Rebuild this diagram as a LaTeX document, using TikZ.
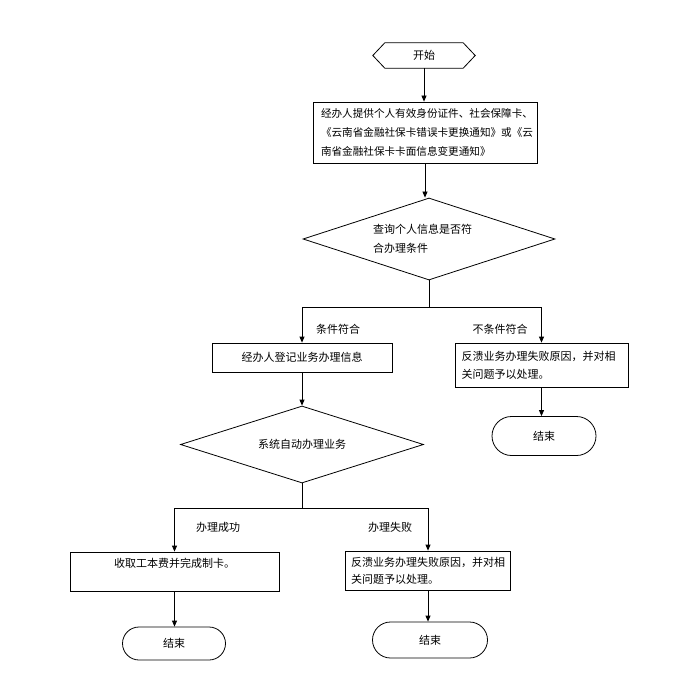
\documentclass[tikz,border=0pt]{standalone}
\usepackage{fontspec}
\setmainfont{Noto Sans CJK SC}
\usetikzlibrary{arrows.meta,shapes.geometric,shapes.misc}
\begin{document}
\begin{tikzpicture}[x=1pt,y=-1pt,
  every node/.style={font=\fontsize{11}{19}\selectfont},
  box/.style={draw,line width=0.8pt,rectangle,inner sep=0pt},
  dec/.style={draw,line width=0.8pt,diamond,aspect=3,inner sep=0pt},
  term/.style={draw,line width=0.8pt,rounded rectangle,inner sep=0pt},
  conn/.style={line width=0.8pt,-{Triangle[length=6pt,width=5pt]}},
  plain/.style={line width=0.8pt},
  lbl/.style={inner sep=0pt}]
\useasboundingbox (0,0) rectangle (700,700);
% start
\node[minimum width=102pt,minimum height=25pt,inner sep=0pt] (s) at (424,55.5) {开始};
\draw[line width=0.8pt] ([xshift=12pt]s.north west) -- ([xshift=-12pt]s.north east) -- (s.east)
  -- ([xshift=-12pt]s.south east) -- ([xshift=12pt]s.south west) -- (s.west) -- cycle;
% box 1
\node[box,minimum width=224pt,minimum height=61pt,text width=208pt,align=left,
  font=\fontsize{10.6}{19}\selectfont] (b1) at (425,132.5)
  {经办人提供个人有效身份证件、社会保障卡、\\《云南省金融社保卡错误卡更换通知》或《云\\南省金融社保卡卡面信息变更通知》};
% decision 1
\node[dec,minimum width=252pt,minimum height=82pt,text width=112pt,align=left] (d1) at (429,239)
  {查询个人信息是否符\\合办理条件};
\coordinate (j1) at (429,307);
% box 2 and box 3
\node[box,minimum width=180pt,minimum height=29pt] (b2) at (302,357.5) {经办人登记业务办理信息};
\node[box,minimum width=173pt,minimum height=44pt,text width=160pt,align=left,
  font=\fontsize{11}{18}\selectfont] (b3) at (541.5,365)
  {反溃业务办理失败原因，并对相\\关问题予以处理。};
\node[term,minimum width=104pt,minimum height=39pt] (e1) at (544,436) {结束};
% labels
\node[lbl] (l1) at (338,329) {条件符合};
\node[lbl] (l2) at (500,329) {不条件符合};
% decision 2
\node[dec,minimum width=243pt,minimum height=77pt] (d2) at (302,444.5) {系统自动办理业务};
\coordinate (j2) at (302,508);
\node[lbl] (l3) at (218,527) {办理成功};
\node[lbl] (l4) at (390,527) {办理失败};
% box 4 and 5
\node[box,minimum width=209pt,minimum height=39pt,align=center,
  font=\fontsize{11}{18}\selectfont] (b4) at (174.5,571.5) {收取工本费并完成制卡。\\\mbox{}};
\node[box,minimum width=165pt,minimum height=39pt,text width=154pt,align=left,
  font=\fontsize{11}{17}\selectfont] (b5) at (428,570.5)
  {反溃业务办理失败原因，并对相\\关问题予以处理。};
\node[term,minimum width=103pt,minimum height=33pt] (e2) at (174,643.5) {结束};
\node[term,minimum width=115pt,minimum height=36pt] (e3) at (430,640) {结束};
% connectors
\draw[conn] (s.south) -- (s.south |- b1.north);
\draw[conn] (b1.south) -- (b1.south |- d1.north);
\draw[plain] (d1.south) -- (j1);
\draw[conn] (j1) -| (b2.north);
\draw[conn] (j1) -| (b3.north);
\draw[conn] (b3.south) -- (b3.south |- e1.north);
\draw[conn] (b2.south) -- (d2.north);
\draw[plain] (d2.south) -- (j2);
\draw[conn] (j2) -| (b4.north);
\draw[conn] (j2) -| (b5.north);
\draw[conn] (b4.south) -- (b4.south |- e2.north);
\draw[conn] (b5.south) -- (b5.south |- e3.north);
\end{tikzpicture}
\end{document}
